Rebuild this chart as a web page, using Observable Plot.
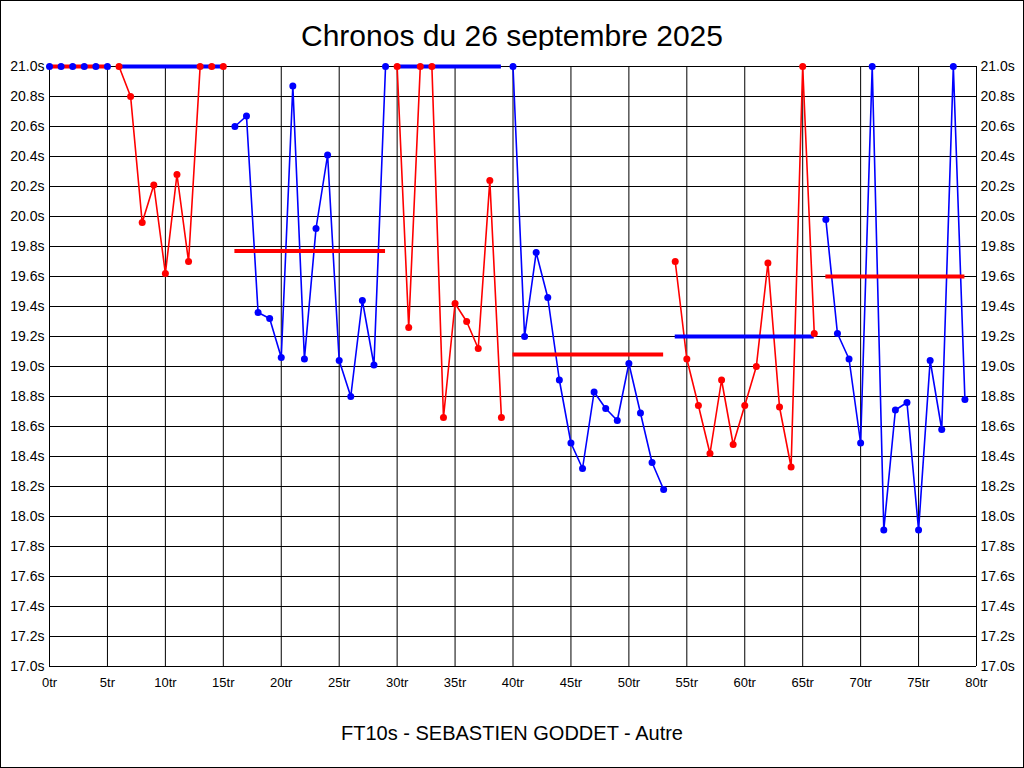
<!DOCTYPE html>
<html>
<head>
<meta charset="utf-8">
<script src="https://cdn.jsdelivr.net/npm/d3@7"></script>
<script src="https://cdn.jsdelivr.net/npm/@observablehq/plot@0.6"></script>
<style>
  html, body { margin: 0; padding: 0; background: #fff; }
  #wrap { position: relative; width: 1024px; height: 768px; background: #fff; overflow: hidden;
          font-family: "Liberation Sans", Arial, sans-serif; }
  #frame { position: absolute; left: 0; top: 0; width: 1024px; height: 768px; box-sizing: border-box;
           border: 1px solid #000; pointer-events: none; }
  #title { position: absolute; left: 0; width: 1024px; top: 18px; line-height: 36px; text-align: center;
           font-size: 30px; color: #000; }
  #chart { position: absolute; left: 0; top: 50px; }
  #caption { position: absolute; left: 0; width: 1024px; top: 720px; line-height: 26px; text-align: center;
             font-size: 20px; color: #000; }
</style>
</head>
<body>
<div id="wrap">
  <div id="title">Chronos du 26 septembre 2025</div>
  <div id="chart"></div>
  <div id="caption">FT10s - SEBASTIEN GODDET - Autre</div>
  <div id="frame"></div>
</div>
<script>
// Lap times (seconds) for laps 0..79 ("tr")
const times = [
  21.0, 21.0, 21.0, 21.0, 21.0, 21.0,
  21.0, 20.80, 19.96, 20.21, 19.62, 20.28, 19.70, 21.0, 21.0, 21.0,
  20.60, 20.67, 19.36, 19.32, 19.06, 20.87, 19.05, 19.92, 20.41, 19.04, 18.80, 19.44, 19.01, 21.0,
  21.0, 19.26, 21.0, 21.0, 18.66, 19.42, 19.30, 19.12, 20.24, 18.66,
  21.0, 19.20, 19.76, 19.46, 18.91, 18.49, 18.32, 18.83, 18.72, 18.64, 19.02, 18.69, 18.36, 18.18,
  19.70, 19.05, 18.74, 18.42, 18.91, 18.48, 18.74, 19.00, 19.69, 18.73, 18.33, 21.0, 19.22,
  19.98, 19.22, 19.05, 18.49, 21.0, 17.91, 18.71, 18.76, 17.91, 19.04, 18.58, 21.0, 18.78
];
// Segments (runs): first lap, last lap, colour, average shown
const segStart = [0, 6, 16, 30, 40, 54, 67];
const segEnd   = [5, 15, 29, 39, 53, 66, 79];
const segColor = ["blue", "red", "blue", "red", "blue", "red", "blue"];
const avgColor = ["red", "blue", "red", "blue", "red", "blue", "red"];
const segAvg   = [21.0, 21.0, 19.77, 21.0, 19.08, 19.20, 19.60];
// Axis ticks
const xTicks = [0, 5, 10, 15, 20, 25, 30, 35, 40, 45, 50, 55, 60, 65, 70, 75, 80];
const yTicks = [17.0, 17.2, 17.4, 17.6, 17.8, 18.0, 18.2, 18.4, 18.6, 18.8, 19.0,
                19.2, 19.4, 19.6, 19.8, 20.0, 20.2, 20.4, 20.6, 20.8, 21.0];

const points = times.map((t, i) => {
  const s = segStart.findIndex((a, k) => i >= a && i <= segEnd[k]);
  return {lap: i, time: t, seg: s, color: segColor[s]};
});
const avgs = segAvg.map((v, k) => ({start: segStart[k], end: segEnd[k], avg: v, color: avgColor[k]}));

const chart = Plot.plot({
  width: 1024,
  height: 650,
  marginLeft: 49,
  marginRight: 48,
  marginTop: 16,
  marginBottom: 34,
  x: {domain: [0, 80]},
  y: {domain: [17, 21]},
  color: {type: "identity"},
  style: {fontFamily: "'Liberation Sans', Arial, sans-serif", fontSize: "13px", color: "#000", background: "#fff", overflow: "visible"},
  marks: [
    Plot.ruleY(yTicks, {y: d => d, stroke: "#000", strokeWidth: 1}),
    Plot.ruleX(xTicks, {x: d => d, stroke: "#000", strokeWidth: 1}),
    Plot.axisY({anchor: "left", ticks: yTicks, tickFormat: d => d.toFixed(1) + "s", tickSize: 0, tickPadding: 5, label: null, fontSize: 14}),
    Plot.axisY({anchor: "right", ticks: yTicks, tickFormat: d => d.toFixed(1) + "s", tickSize: 0, tickPadding: 4, label: null, fontSize: 14}),
    Plot.axisX({ticks: xTicks, tickFormat: d => d + "tr", tickSize: 0, tickPadding: 11, label: null, fontSize: 13}),
    Plot.line(points, {x: "lap", y: "time", z: "seg", stroke: "color", strokeWidth: 1.6}),
    Plot.ruleY(avgs, {x1: "start", x2: "end", y: "avg", stroke: "color", strokeWidth: 4}),
    Plot.dot(points, {x: "lap", y: "time", fill: "color", r: 3.5, stroke: "none"})
  ]
});
document.getElementById("chart").appendChild(chart);
</script>
</body>
</html>
